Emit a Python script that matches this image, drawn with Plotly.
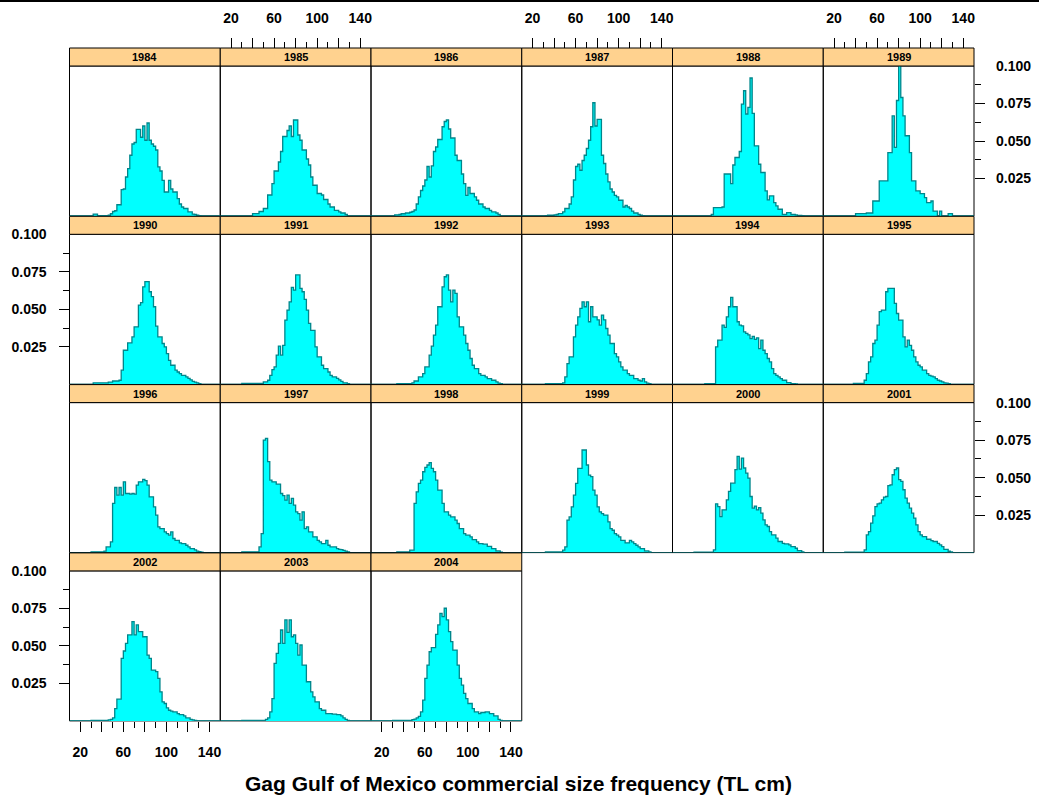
import plotly.graph_objects as go

# Size-frequency proportions per 2 cm total-length bin, stored from 30 cm upward.
BIN_START = 30
BIN_W = 2
X_MIN, X_MAX = 10, 150

years = list(range(1984, 2005))

p1984 = [0, 0.0013, 0.0013, 0.0003, 0.0003, 0.0003, 0.0003, 0.0003, 0.0005, 0.0015,
         0.003, 0.0035, 0.0075, 0.0075, 0.0176, 0.018, 0.026, 0.0316, 0.0405, 0.048,
         0.049, 0.0577, 0.0577, 0.0525, 0.060, 0.0505, 0.062, 0.0505, 0.048, 0.0465,
         0.044, 0.0327, 0.030, 0.0238, 0.016, 0.016, 0.0238, 0.018, 0.016, 0.016,
         0.0116, 0.008, 0.006, 0.005, 0.005, 0.0027, 0.0027, 0.0013, 0.001, 0.0005, 0.0003]
p1985 = [0, 0, 0, 0, 0, 0.0016, 0.0016, 0.0016, 0.003, 0.003,
         0.005, 0.005, 0.014, 0.014, 0.0216, 0.030, 0.030, 0.036, 0.043, 0.053,
         0.053, 0.057, 0.060, 0.053, 0.064, 0.064, 0.054, 0.0505, 0.044, 0.044,
         0.038, 0.034, 0.026, 0.0205, 0.0205, 0.015, 0.015, 0.014, 0.011, 0.011,
         0.008, 0.006, 0.006, 0.0038, 0.0038, 0.0027, 0.002, 0.002, 0.001]
p1986 = [0, 0.0008, 0.0008, 0.001, 0.0015, 0.0015, 0.002, 0.002, 0.0025, 0.003,
         0.004, 0.008, 0.0127, 0.017, 0.020, 0.024, 0.033, 0.026, 0.0334, 0.043,
         0.046, 0.051, 0.051, 0.0595, 0.063, 0.064, 0.058, 0.052, 0.052, 0.0405,
         0.037, 0.037, 0.028, 0.0216, 0.0138, 0.019, 0.015, 0.015, 0.0127, 0.0105,
         0.008, 0.008, 0.006, 0.005, 0.005, 0.0038, 0.0027, 0.0027, 0.002, 0.001]
p1987 = [0, 0.0003, 0.0005, 0.0005, 0.0005, 0.0008, 0.001, 0.0016, 0.0016, 0.0027,
         0.005, 0.005, 0.008, 0.0127, 0.024, 0.033, 0.0345, 0.0305, 0.037, 0.0405,
         0.045, 0.0505, 0.0595, 0.0755, 0.060, 0.0644, 0.0644, 0.0405, 0.035, 0.028,
         0.0227, 0.018, 0.016, 0.0138, 0.0127, 0.0105, 0.0105, 0.006, 0.007, 0.006,
         0.005, 0.0033, 0.002, 0.002, 0.001, 0.0005, 0.0003]
p1988 = [0, 0, 0, 0, 0, 0, 0, 0, 0.001, 0.0056,
         0.0056, 0.0056, 0.0056, 0.006, 0.028, 0.028, 0.028, 0.0216, 0.034, 0.039,
         0.039, 0.043, 0.0746, 0.0835, 0.068, 0.0724, 0.092, 0.0684, 0.0468, 0.0468,
         0.0345, 0.029, 0.029, 0.0167, 0.0107, 0.0134, 0.0134, 0.0089, 0.0067, 0.0045,
         0.0045, 0.0011, 0.0011, 0.0022, 0.0022, 0.0011, 0.0011, 0.0007, 0.0004, 0.0004, 0.0002]
p1989 = [0, 0, 0, 0, 0, 0.0016, 0.0016, 0.0016, 0.0016, 0.0016,
         0.002, 0.002, 0.002, 0.010, 0.010, 0.010, 0.0234, 0.0234, 0.0234, 0.0234,
         0.0423, 0.0423, 0.0668, 0.0457, 0.077, 0.104, 0.079, 0.0668, 0.0535, 0.0535,
         0.0423, 0.0234, 0.0234, 0.0167, 0.0167, 0.0149, 0.0149, 0.0123, 0.0089, 0.0089,
         0.010, 0.0033, 0.0033, 0, 0.0033, 0, 0, 0, 0.0016, 0.0016]
p1990 = [0, 0.001, 0.001, 0.001, 0.001, 0.001, 0.001, 0.001, 0.0015, 0.0015,
         0.0022, 0.0022, 0.0022, 0.0027, 0.0094, 0.0227, 0.0227, 0.0276, 0.0276, 0.0316,
         0.0383, 0.0383, 0.0528, 0.0544, 0.065, 0.0684, 0.0684, 0.0617, 0.0584, 0.0517,
         0.0388, 0.0316, 0.0316, 0.0272, 0.025, 0.0205, 0.016, 0.0127, 0.0127, 0.0094,
         0.0082, 0.0071, 0.006, 0.006, 0.0049, 0.004, 0.003, 0.002, 0.0015, 0.001, 0.0005]
p1991 = [0.0006, 0.0006, 0.0006, 0.0006, 0.0006, 0.0006, 0.0006, 0.0006, 0.0006, 0.0006,
         0.0016, 0.0016, 0.0027, 0.006, 0.0098, 0.0116, 0.0194, 0.0254, 0.0194, 0.026,
         0.0428, 0.0495, 0.055, 0.0646, 0.0628, 0.0729, 0.0729, 0.064, 0.0617, 0.0566,
         0.0495, 0.0406, 0.036, 0.036, 0.025, 0.0183, 0.0183, 0.0127, 0.0105, 0.0105,
         0.0082, 0.006, 0.0049, 0.0049, 0.004, 0.003, 0.002, 0.001, 0.001, 0.0005]
p1992 = [0, 0, 0.0005, 0.0005, 0.0005, 0.0005, 0.0005, 0.0005, 0.0005, 0.001,
         0.0022, 0.0022, 0.0049, 0.0049, 0.0071, 0.0116, 0.0116, 0.0194, 0.0254, 0.0328,
         0.0394, 0.0517, 0.0517, 0.065, 0.0717, 0.0729, 0.0628, 0.055, 0.0628, 0.0606,
         0.045, 0.0383, 0.0383, 0.0328, 0.0272, 0.0227, 0.0172, 0.0127, 0.0105, 0.0105,
         0.0071, 0.006, 0.006, 0.0049, 0.0038, 0.0038, 0.0027, 0.0027, 0.0016, 0.0008, 0.0004]
p1993 = [0, 0.0005, 0.0005, 0.0005, 0.0005, 0.0005, 0.0005, 0.0005, 0.0005, 0.001,
         0.0049, 0.0138, 0.0183, 0.0183, 0.0316, 0.0394, 0.045, 0.0506, 0.055, 0.0517,
         0.055, 0.0417, 0.0517, 0.045, 0.045, 0.043, 0.0394, 0.0461, 0.043, 0.0372,
         0.0328, 0.0272, 0.0272, 0.0205, 0.0183, 0.0149, 0.0116, 0.0094, 0.0094, 0.0071,
         0.006, 0.006, 0.0038, 0.0038, 0.0027, 0.0022, 0.0038, 0.0016, 0.0008, 0.0004]
p1994 = [0, 0, 0, 0, 0, 0.0005, 0.0005, 0.0005, 0.0005, 0.0005,
         0.025, 0.0294, 0.0294, 0.0394, 0.038, 0.045, 0.0517, 0.058, 0.0517, 0.0517,
         0.0417, 0.0394, 0.039, 0.035, 0.0339, 0.033, 0.0305, 0.032, 0.030, 0.031,
         0.0238, 0.0294, 0.0227, 0.0205, 0.0172, 0.0149, 0.0105, 0.0071, 0.006, 0.0049,
         0.0038, 0.0027, 0.0027, 0.0011, 0.0011, 0.0005, 0.0005, 0.0003]
p1995 = [0, 0, 0, 0, 0.0006, 0.0006, 0.0006, 0.0006, 0.0006, 0.0027,
         0.0071, 0.0149, 0.0183, 0.0272, 0.0294, 0.0394, 0.0484, 0.0495, 0.0495, 0.0617,
         0.064, 0.064, 0.064, 0.0539, 0.0472, 0.0428, 0.0428, 0.0316, 0.025, 0.0294,
         0.026, 0.0227, 0.0183, 0.0149, 0.0127, 0.0116, 0.0094, 0.0094, 0.0071, 0.006,
         0.0055, 0.005, 0.0038, 0.0027, 0.0022, 0.0016, 0.001, 0.0008, 0.0004]
p1996 = [0.0005, 0.0005, 0.0005, 0.0005, 0.0005, 0.0005, 0.001, 0.0038, 0.0038, 0.0071,
         0.0328, 0.0434, 0.0383, 0.0434, 0.0383, 0.0472, 0.0394, 0.0394, 0.039, 0.0394,
         0.039, 0.045, 0.0472, 0.0472, 0.0488, 0.048, 0.045, 0.0372, 0.0372, 0.0305,
         0.025, 0.0172, 0.016, 0.016, 0.0138, 0.0127, 0.0116, 0.0138, 0.0094, 0.0082,
         0.0082, 0.0065, 0.006, 0.006, 0.0049, 0.0038, 0.0027, 0.0027, 0.0018, 0.001,
         0.0006, 0.0003]
p1997 = [0.0005, 0.0005, 0.0005, 0.0005, 0.0005, 0.0005, 0.0005, 0.0005, 0.0038, 0.0127,
         0.075, 0.0762, 0.0606, 0.0483, 0.0472, 0.0472, 0.0457, 0.0457, 0.0394, 0.038,
         0.035, 0.0383, 0.0328, 0.0361, 0.0316, 0.0272, 0.026, 0.0216, 0.0272, 0.016,
         0.0172, 0.0138, 0.0138, 0.0105, 0.0105, 0.0082, 0.0071, 0.006, 0.006, 0.0082,
         0.0049, 0.0038, 0.0038, 0.0038, 0.0027, 0.0022, 0.002, 0.0015, 0.001, 0.0005]
p1998 = [0, 0, 0.0004, 0.0004, 0.0004, 0.0004, 0.0004, 0.0004, 0.0016, 0.0016,
         0.0328, 0.0405, 0.0461, 0.0483, 0.0539, 0.0568, 0.0584, 0.060, 0.0561, 0.0539,
         0.0483, 0.0417, 0.0417, 0.0328, 0.0272, 0.0272, 0.025, 0.0238, 0.0238, 0.0216,
         0.0194, 0.016, 0.016, 0.0127, 0.0116, 0.0116, 0.0105, 0.0087, 0.0087, 0.0071,
         0.006, 0.006, 0.0056, 0.0056, 0.0042, 0.0042, 0.0027, 0.0027, 0.0011, 0.0011, 0.0003]
p1999 = [0, 0.0004, 0.0004, 0.0004, 0.0004, 0.0004, 0.0004, 0.0004, 0.0004, 0.0016,
         0.0038, 0.0216, 0.0238, 0.0305, 0.0383, 0.0461, 0.0561, 0.0561, 0.0684, 0.0684,
         0.0584, 0.0517, 0.0506, 0.0417, 0.0383, 0.0305, 0.0272, 0.026, 0.025, 0.025,
         0.0205, 0.016, 0.0149, 0.0127, 0.0116, 0.0105, 0.0082, 0.0082, 0.0065, 0.0065,
         0.0082, 0.0071, 0.006, 0.0049, 0.0038, 0.0027, 0.0027, 0.0011, 0.0011, 0.0004]
p2000 = [0.0003, 0.0003, 0.0003, 0.0003, 0.0003, 0.0003, 0.0003, 0.0003, 0.0003, 0.0018,
         0.0325, 0.0307, 0.024, 0.0285, 0.0285, 0.0352, 0.0408, 0.0463, 0.0463, 0.0553,
         0.0642, 0.0557, 0.063, 0.0564, 0.053, 0.0497, 0.0374, 0.0296, 0.031, 0.0285,
         0.030, 0.0263, 0.0218, 0.0185, 0.0174, 0.014, 0.0118, 0.0118, 0.0096, 0.0074,
         0.0074, 0.0062, 0.0058, 0.0058, 0.0051, 0.004, 0.004, 0.0029, 0.0013, 0.0013, 0.0005]
p2001 = [0.0003, 0.0003, 0.0003, 0.0003, 0.0003, 0.0003, 0.0003, 0.0003, 0.0003, 0.0018,
         0.0118, 0.014, 0.0196, 0.0245, 0.0307, 0.0325, 0.033, 0.0352, 0.037, 0.0374,
         0.0446, 0.0452, 0.0519, 0.0553, 0.0564, 0.0486, 0.0475, 0.0419, 0.0363, 0.033,
         0.0296, 0.0263, 0.023, 0.0185, 0.014, 0.0118, 0.0107, 0.0107, 0.0089, 0.0089,
         0.008, 0.0074, 0.0074, 0.0062, 0.0051, 0.004, 0.0022, 0.0022, 0.0009, 0.0004]
p2002 = [0.0003, 0.0003, 0.0003, 0.0003, 0.0003, 0.0003, 0.0003, 0.0003, 0.0007, 0.001,
         0.002, 0.0082, 0.0145, 0.0145, 0.0417, 0.0466, 0.0517, 0.0573, 0.0573, 0.0662,
         0.0573, 0.064, 0.0595, 0.0595, 0.0561, 0.0561, 0.0439, 0.0417, 0.0339, 0.0339,
         0.0328, 0.0283, 0.0194, 0.0127, 0.0116, 0.0087, 0.0071, 0.0065, 0.006, 0.006,
         0.0049, 0.0042, 0.0042, 0.0033, 0.002, 0.002, 0.001, 0.0007, 0.0003]
p2003 = [0.0003, 0.0003, 0.0003, 0.0003, 0.0003, 0.0003, 0.0003, 0.0003, 0.0003, 0.0003,
         0.0003, 0.001, 0.002, 0.006, 0.0149, 0.0383, 0.045, 0.0517, 0.0606, 0.0517,
         0.0673, 0.059, 0.0673, 0.0561, 0.0573, 0.0517, 0.0439, 0.0506, 0.0372, 0.0372,
         0.0261, 0.0261, 0.0194, 0.016, 0.0127, 0.0127, 0.0082, 0.0071, 0.0071, 0.0049,
         0.0049, 0.0049, 0.0045, 0.0045, 0.0042, 0.0042, 0.0033, 0.002, 0.001, 0.0003]
p2004 = [0.0003, 0.0003, 0.0003, 0.0003, 0.0003, 0.0003, 0.0003, 0.0003, 0.0003, 0.0008,
         0.0012, 0.002, 0.003, 0.006, 0.0138, 0.0283, 0.0372, 0.0461, 0.0488, 0.0488,
         0.0577, 0.064, 0.0717, 0.0695, 0.0751, 0.0673, 0.0595, 0.0528, 0.0472, 0.0472,
         0.0372, 0.0283, 0.0238, 0.0183, 0.0149, 0.0116, 0.0116, 0.0082, 0.006, 0.006,
         0.0049, 0.0056, 0.0056, 0.006, 0.006, 0.0049, 0.0049, 0.0033, 0.0033, 0.001, 0.0003]

series = [p1984, p1985, p1986, p1987, p1988, p1989, p1990, p1991, p1992, p1993, p1994,
          p1995, p1996, p1997, p1998, p1999, p2000, p2001, p2002, p2003, p2004]

x_major = [20, 40, 60, 80, 100, 120, 140]
x_major_text = ["20", "", "60", "", "100", "", "140"]
x_minor = [30, 50, 70, 90, 110, 130]
y_major = [0.025, 0.050, 0.075]
y_minor = [0.0375, 0.0625, 0.0875]
y_label_vals = [0.025, 0.050, 0.075, 0.100]
y_label_text = ["0.025", "0.050", "0.075", "0.100"]

TITLE = "Gag Gulf of Mexico commercial size frequency (TL cm)"

# ---- page geometry (pixels) ----
W, H = 1039, 798
NCOL = 6
COL_L0, COL_W = 69.5, 150.75
ROW_T0, ROW_STEP, STRIP_H, PANEL_H = 48.0, 168.3, 18.0, 150.0

FILL = "#00FFFF"
EDGE = "#00868B"
STRIP_BG = "#FFD28F"
FONT = "Liberation Sans, Arial, sans-serif"


def fx(px):
    return px / W


def fy(px):
    return 1 - px / H


def step_outline(vals):
    nbins = (X_MAX - X_MIN) // BIN_W
    full = [0.0] * nbins
    off = (BIN_START - X_MIN) // BIN_W
    for i, v in enumerate(vals):
        full[off + i] = v
    edges = [X_MIN + BIN_W * i for i in range(nbins + 1)]
    return edges, full + [full[-1]]


fig = go.Figure()
layout = {}
shapes = []
annotations = []
tick_font = dict(family=FONT, size=14, color="black", weight="bold")

n_panels = len(years)
extra_axis = n_panels + 1

for k, (year, vals) in enumerate(zip(years, series)):
    r, c = divmod(k, NCOL)
    left = COL_L0 + c * COL_W
    right = left + COL_W
    s_top = ROW_T0 + r * ROW_STEP
    p_top = s_top + STRIP_H
    p_bot = p_top + PANEL_H

    sfx = "" if k == 0 else str(k + 1)
    xname, yname = "x" + sfx, "y" + sfx

    edges, ys = step_outline(vals)
    fig.add_trace(go.Scatter(
        x=edges, y=ys, mode="lines", line=dict(color=EDGE, width=1.3, shape="hv"),
        fill="tozeroy", fillcolor=FILL, xaxis=xname, yaxis=yname,
        hoverinfo="skip", showlegend=False))

    xa = dict(domain=[fx(left), fx(right)], range=[X_MIN, X_MAX], showgrid=False,
              zeroline=False, showline=False, showticklabels=False, ticks="",
              anchor=yname, fixedrange=True, automargin=False)
    ya = dict(domain=[fy(p_bot), fy(p_top)], range=[0, 0.1], showgrid=False,
              zeroline=False, showline=False, showticklabels=False, ticks="",
              anchor=xname, fixedrange=True, automargin=False)

    x_ticks = dict(tickmode="array", tickvals=x_major, ticktext=x_major_text,
                   ticks="outside", ticklen=10, tickwidth=1, tickcolor="black",
                   showticklabels=True, tickfont=tick_font,
                   minor=dict(tickmode="array", tickvals=x_minor, ticks="outside",
                              ticklen=6, tickwidth=1, tickcolor="black"))
    if r == 0 and c % 2 == 1:
        xa.update(x_ticks)
        xa.update(side="top", anchor="free", position=fy(s_top), ticklabelstandoff=9)
    if r == 3 and c % 2 == 0:
        xa.update(x_ticks)
        xa.update(side="bottom", ticklabelstandoff=8)

    y_side = None
    if r in (0, 2) and c == NCOL - 1:
        y_side = "right"
    if r in (1, 3) and c == 0:
        y_side = "left"
    if y_side:
        ya.update(side=y_side, tickmode="array", tickvals=y_major, ticks="outside",
                  ticklen=10, tickwidth=1, tickcolor="black",
                  minor=dict(tickmode="array", tickvals=y_minor, ticks="outside",
                             ticklen=6, tickwidth=1, tickcolor="black"))
        # labels live on an overlaid axis so the 0.100 label carries no tick mark
        lab = "y" + str(extra_axis)
        layout["yaxis" + str(extra_axis)] = dict(
            overlaying=yname, anchor=xname, side=y_side, range=[0, 0.1],
            tickmode="array", tickvals=y_label_vals, ticktext=y_label_text,
            ticks="", showgrid=False, zeroline=False, showline=False,
            tickfont=tick_font, ticklabelstandoff=22 if y_side == "left" else 21,
            fixedrange=True, automargin=False)
        fig.add_trace(go.Scatter(x=[], y=[], xaxis=xname, yaxis=lab,
                                 showlegend=False, hoverinfo="skip"))
        extra_axis += 1

    layout["xaxis" + sfx] = xa
    layout["yaxis" + sfx] = ya

    # panel frame
    shapes.append(dict(type="rect", xref=xname + " domain", yref=yname + " domain",
                       x0=0, x1=1, y0=0, y1=1, line=dict(color="black", width=1),
                       layer="below"))
    # strip with the year
    shapes.append(dict(type="rect", xref="paper", yref="paper",
                       x0=fx(left), x1=fx(right), y0=fy(p_top), y1=fy(s_top),
                       fillcolor=STRIP_BG, line=dict(color="black", width=1),
                       layer="above"))
    annotations.append(dict(text=str(year), xref="paper", yref="paper",
                            x=fx((left + right) / 2), y=fy((s_top + p_top) / 2),
                            xanchor="center", yanchor="middle", showarrow=False,
                            font=dict(family=FONT, size=11, color="black", weight="bold")))

# rule along the top edge of the page
shapes.append(dict(type="line", xref="paper", yref="paper", x0=0, x1=1,
                   y0=fy(1), y1=fy(1), line=dict(color="black", width=2)))

annotations.append(dict(text=TITLE, xref="paper", yref="paper", x=fx(518.5), y=fy(783),
                        xanchor="center", yanchor="middle", showarrow=False,
                        font=dict(family=FONT, size=21, color="black", weight="bold")))

fig.update_layout(width=W, height=H, margin=dict(l=0, r=0, t=0, b=0, autoexpand=False),
                  paper_bgcolor="white", plot_bgcolor="white", showlegend=False,
                  shapes=shapes, annotations=annotations, **layout)

fig.write_html("out.html")
